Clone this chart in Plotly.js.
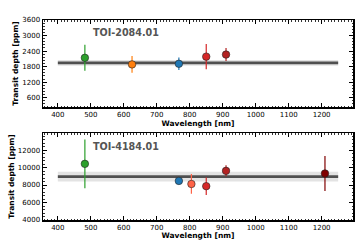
<!DOCTYPE html>
<html><head><meta charset="utf-8">
<script src="https://cdn.plot.ly/plotly-3.0.1.min.js"></script>
<style>body{margin:0;background:#fff}#c{width:360px;height:240px}</style>
</head><body><div id="c"></div>
<script>
// TOI-2084.01
const wl1 = [482, 625, 767, 850, 910];
const depth1 = [2140, 1885, 1910, 2185, 2265];
const err1 = [500, 320, 245, 490, 250];
const col1 = ['#2ca02c', '#ff7f0e', '#1f77b4', '#d62728', '#b22222'];
const flat1 = 1945, band1 = 110;
// TOI-4184.01
const wl2 = [482, 767, 805, 850, 910, 1210];
const depth2 = [10420, 8470, 8120, 7870, 9620, 9320];
const err2 = [2780, 300, 1130, 1000, 630, 2000];
const col2 = ['#2ca02c', '#1f77b4', '#ff6347', '#d62728', '#b22222', '#800000'];
const flat2 = 8960, band2 = 550;
const lineX = [400, 1250];
const labels = ['TOI-2084.01', 'TOI-4184.01'];
const xTicks = [400, 500, 600, 700, 800, 900, 1000, 1100, 1200];
const yTicks1 = [600, 1200, 1800, 2400, 3000, 3600];
const yTicks2 = [4000, 6000, 8000, 10000, 12000];

const traces = [];
function addPanel(wl, d, e, cols, flat, band, xa, ya) {
  traces.push({x: [lineX[0], lineX[1], lineX[1], lineX[0]], y: [flat-band, flat-band, flat+band, flat+band],
    fill: 'toself', fillcolor: 'rgba(200,200,200,0.5)', line: {width: 0}, mode: 'lines', xaxis: xa, yaxis: ya, hoverinfo: 'skip'});
  traces.push({x: lineX, y: [flat, flat], mode: 'lines', line: {color: '#505050', width: 2.8}, xaxis: xa, yaxis: ya});
  wl.forEach((w, i) => {
    traces.push({x: [w], y: [d[i]], mode: 'markers', xaxis: xa, yaxis: ya,
      error_y: {type: 'data', array: [e[i]], color: cols[i], thickness: 1.2, width: 0},
      marker: {color: cols[i], size: 7.5, line: {color: '#222', width: 0.6}}});
  });
}
addPanel(wl1, depth1, err1, col1, flat1, band1, 'x', 'y');
addPanel(wl2, depth2, err2, col2, flat2, band2, 'x2', 'y2');

const tf = {family: 'DejaVu Sans', size: 7, color: '#000'};
const ttl = {family: 'DejaVu Sans', size: 7.5, color: '#000', weight: 'bold'};
function xax(anchor) {
  return {anchor: anchor, range: [355, 1295], tickvals: xTicks, ticktext: xTicks.map(String),
    ticks: 'inside', ticklen: 4, tickwidth: 1, tickcolor: '#000', mirror: 'allticks', showline: true, linecolor: '#000', linewidth: 1.5,
    showgrid: false, zeroline: false, tickfont: tf,
    minor: {dtick: 10, ticks: 'inside', ticklen: 1.5, tickcolor: '#000', tickwidth: 0.8},
    title: {text: 'Wavelength [nm]', font: ttl, standoff: 2}};
}
function yax(anchor, range, dom, tv) {
  return {anchor: anchor, domain: dom, range: range, tickvals: tv, ticktext: tv.map(String),
    ticks: 'inside', ticklen: 4, tickwidth: 1, tickcolor: '#000', mirror: 'allticks', showline: true, linecolor: '#000', linewidth: 1.5,
    showgrid: false, zeroline: false, tickfont: tf,
    minor: {dtick: (tv[1]-tv[0])/5, ticks: 'inside', ticklen: 1.5, tickcolor: '#000', tickwidth: 0.8},
    title: {text: 'Transit depth [ppm]', font: ttl, standoff: 2}};
}
const annFont = {family: 'DejaVu Sans', size: 9.6, color: '#555', weight: 'bold'};
const layout = {
  width: 360, height: 240, showlegend: false,
  margin: {l: 43, r: 7, t: 20, b: 20},
  paper_bgcolor: '#fff', plot_bgcolor: '#fff',
  xaxis: xax('y'), xaxis2: xax('y2'),
  yaxis: yax('x', [240, 3600], [0.565, 1], yTicks1),
  yaxis2: yax('x2', [4000, 13950], [0, 0.435], yTicks2),
  annotations: [
    {text: labels[0], xref: 'paper', yref: 'paper', x: 0.155, y: 0.94, xanchor: 'left', yanchor: 'middle', showarrow: false, font: annFont},
    {text: labels[1], xref: 'paper', yref: 'paper', x: 0.155, y: 0.367, xanchor: 'left', yanchor: 'middle', showarrow: false, font: annFont}
  ]
};
Plotly.newPlot('c', traces, layout, {staticPlot: true, displayModeBar: false});
</script></body></html>
